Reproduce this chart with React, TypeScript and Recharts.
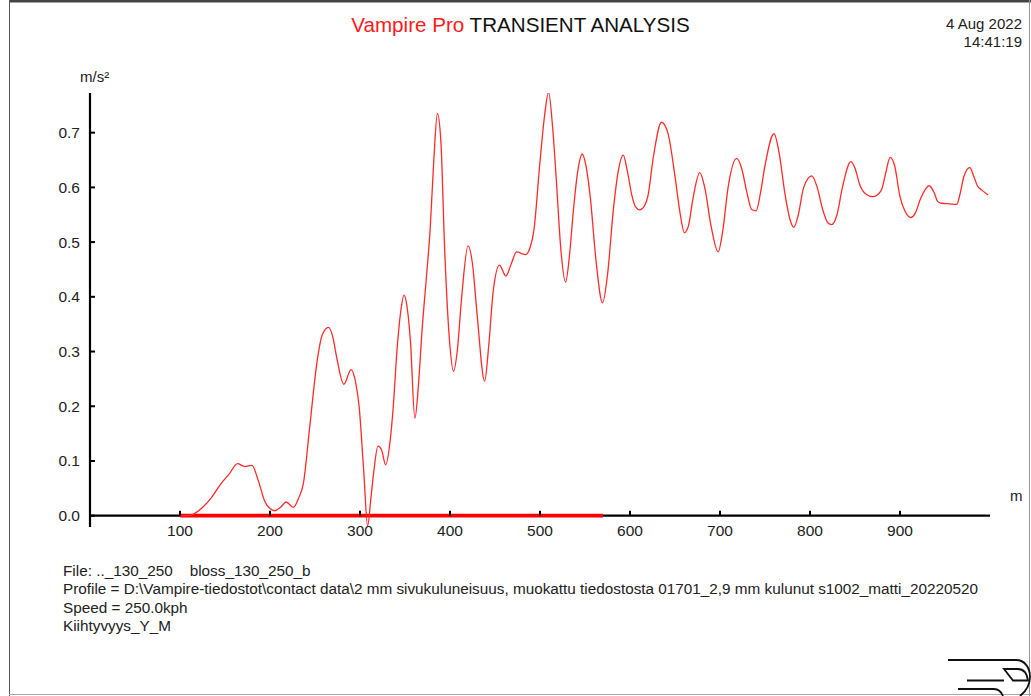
import React from "react";
import { LineChart, Line, XAxis, YAxis, ReferenceLine } from "recharts";

// distance along track (m) and lateral acceleration (m/s²)
const distance = [
  100, 108, 115, 125, 135, 144, 155, 164, 172, 180, 187, 194, 200, 205, 212, 218, 226, 232, 237, 244,
  252, 258, 265, 270, 274, 282, 290, 295, 299, 304, 308.5, 312, 315, 320, 324, 328.5, 333, 337, 341, 345,
  349, 352, 356, 361, 365, 369, 374, 378, 382, 386, 390, 394, 399, 404, 408, 413, 420, 425, 430, 438.5,
  443, 448, 455, 462, 468, 474, 484, 489, 493, 500, 505, 509.5, 514, 518.5, 523, 528.5, 533, 537, 542, 547,
  551, 556, 562, 569.5, 575, 581.5, 587, 592.5, 597, 602, 606, 611, 616, 620, 626, 635, 642, 650, 655, 660.5,
  665, 670, 677.5, 683, 690, 698, 703, 709, 718.5, 724, 730, 735, 740, 745, 750, 760, 766, 772, 778, 782,
  787, 793, 802, 808, 814, 820, 824, 830, 836, 845.5, 850, 855.5, 862, 870, 876, 880, 884, 889, 894, 900,
  906, 912, 917, 923, 932.5, 938, 942, 946, 955, 963, 967, 971, 977.5, 982, 986, 991, 998,
];
const accel = [
  0, 0, 0.003, 0.015, 0.033, 0.055, 0.077, 0.095, 0.09, 0.092, 0.064, 0.027, 0.013, 0.009, 0.016, 0.025, 0.015, 0.033, 0.058, 0.16,
  0.278, 0.33, 0.344, 0.325, 0.29, 0.24, 0.267, 0.245, 0.2, 0.085, -0.019, 0.03, 0.076, 0.127, 0.12, 0.093, 0.13, 0.2, 0.3, 0.37,
  0.403, 0.385, 0.32, 0.178, 0.24, 0.34, 0.44, 0.525, 0.65, 0.735, 0.68, 0.49, 0.33, 0.264, 0.3, 0.4, 0.493, 0.46, 0.37, 0.246,
  0.31, 0.41, 0.458, 0.438, 0.46, 0.482, 0.477, 0.49, 0.519, 0.647, 0.73, 0.774, 0.71, 0.604, 0.49, 0.427, 0.48, 0.556, 0.63, 0.661,
  0.64, 0.58, 0.47, 0.389, 0.44, 0.559, 0.63, 0.659, 0.63, 0.586, 0.565, 0.559, 0.566, 0.585, 0.656, 0.719, 0.7, 0.62, 0.56, 0.517,
  0.53, 0.58, 0.627, 0.6, 0.53, 0.482, 0.52, 0.6, 0.653, 0.635, 0.59, 0.56, 0.557, 0.59, 0.64, 0.698, 0.66, 0.59, 0.54, 0.527,
  0.55, 0.6, 0.621, 0.6, 0.56, 0.535, 0.532, 0.55, 0.6, 0.647, 0.635, 0.604, 0.588, 0.583, 0.588, 0.598, 0.625, 0.655, 0.64, 0.583,
  0.555, 0.545, 0.553, 0.58, 0.603, 0.59, 0.574, 0.571, 0.57, 0.569, 0.59, 0.62, 0.636, 0.62, 0.603, 0.595, 0.586,
];
const xTicks = [100, 200, 300, 400, 500, 600, 700, 800, 900];
const yTicks = [0, 0.1, 0.2, 0.3, 0.4, 0.5, 0.6, 0.7];
const markedSection = [100, 570];

const X_DOMAIN: [number, number] = [0, 1000];
const Y_DOMAIN: [number, number] = [-0.0207, 0.7725];

const data = distance.map((m, i) => ({ m, a: accel[i] }));

const FONT = '"Liberation Sans", Arial, Helvetica, sans-serif';
const PLOT_H = 434;
// distance from plot bottom up to the zero line
const zeroOffset = (PLOT_H * (0 - Y_DOMAIN[0])) / (Y_DOMAIN[1] - Y_DOMAIN[0]);

const XTick = (props: any) => {
  const { x, y, payload } = props;
  const zy = y - zeroOffset;
  return (
    <g>
      <line x1={x} x2={x} y1={zy} y2={zy - 5} stroke="#000" strokeWidth={2} />
      <text x={x} y={y + 9} textAnchor="middle" fontSize={15.5} fontFamily={FONT} fill="#222">
        {payload.value}
      </text>
    </g>
  );
};

const YTick = (props: any) => {
  const { x, y, payload } = props;
  return (
    <g>
      <line x1={x} x2={x + 5} y1={y} y2={y} stroke="#000" strokeWidth={2} />
      <text x={x - 10} y={y + 5.5} textAnchor="end" fontSize={15.5} fontFamily={FONT} fill="#222">
        {payload.value.toFixed(1)}
      </text>
    </g>
  );
};

const footer = [
  "File: .._130_250    bloss_130_250_b",
  "Profile = D:\\Vampire-tiedostot\\contact data\\2 mm sivukuluneisuus, muokattu tiedostosta 01701_2,9 mm kulunut s1002_matti_20220520",
  "Speed = 250.0kph",
  "Kiihtyvyys_Y_M",
];

export default function App() {
  return (
    <div style={{ position: "absolute", left: 0, top: 0, width: 1031, height: 696, background: "#fff", overflow: "hidden" }}>
      <LineChart
        width={1031}
        height={696}
        data={data}
        margin={{ top: 93, right: 41, bottom: 139, left: 30 }}
      >
        <XAxis
          dataKey="m"
          type="number"
          domain={X_DOMAIN}
          ticks={xTicks}
          axisLine={false}
          tickLine={false}
          tickSize={0}
          tickMargin={0}
          height={30}
          tick={<XTick />}
          interval={0}
        />
        <YAxis
          type="number"
          domain={Y_DOMAIN}
          allowDataOverflow
          ticks={yTicks}
          axisLine={{ stroke: "#000", strokeWidth: 2.2 }}
          tickLine={false}
          tickSize={0}
          tickMargin={0}
          width={60}
          tick={<YTick />}
          interval={0}
        />
        <ReferenceLine y={0} stroke="#000" strokeWidth={2.3} />
        <ReferenceLine
          segment={[
            { x: markedSection[0], y: 0 },
            { x: markedSection[1], y: 0 },
          ]}
          stroke="#ff0000"
          strokeWidth={3.6}
        />
        <Line
          type="monotone"
          dataKey="a"
          stroke="#ff2a2a"
          strokeWidth={1.3}
          dot={false}
          activeDot={false}
          isAnimationActive={false}
        />
      </LineChart>

      <svg
        width={1031}
        height={696}
        style={{ position: "absolute", left: 0, top: 0, pointerEvents: "none" }}
        fontFamily={FONT}
      >
        {/* frame */}
        <line x1={9} x2={1031} y1={1.3} y2={1.3} stroke="#444" strokeWidth={2.6} />
        <line x1={9.5} x2={9.5} y1={0} y2={696} stroke="#555" strokeWidth={1} />
        <line x1={1029.5} x2={1029.5} y1={0} y2={696} stroke="#999" strokeWidth={1} />
        <line x1={9} x2={1031} y1={694.5} y2={694.5} stroke="#aaa" strokeWidth={1} />

        <text x={520.5} y={32} textAnchor="middle" fontSize={20.6}>
          <tspan fill="#ff1a1a">Vampire Pro</tspan>
          <tspan fill="#111"> TRANSIENT ANALYSIS</tspan>
        </text>
        <text x={1022} y={29} textAnchor="end" fontSize={15} fill="#222">4 Aug 2022</text>
        <text x={1022} y={47.3} textAnchor="end" fontSize={15} fill="#222">14:41:19</text>

        <text x={80} y={82} fontSize={15} fill="#222">m/s²</text>
        <text x={1010} y={501} fontSize={15} fill="#222">m</text>

        {footer.map((line, i) => (
          <text key={i} x={63} y={576 + i * 18.3} fontSize={15.3} fill="#222" style={{ whiteSpace: "pre" }}>
            {line}
          </text>
        ))}

        {/* logo */}
        <g fill="none" stroke="#111" strokeWidth={1.8}>
          <path d="M948 660 H1016 C1025 660 1030 668 1030 677 C1030 686 1025 692 1020 696" />
          <path d="M967 680.5 H1004" />
          <path d="M1004 669 H1018 C1024 669 1027 674 1028 680.5 H1013 Z" />
          <path d="M958 689 H994 C998 689 1001 691 1003 696" />
        </g>
      </svg>
    </div>
  );
}
